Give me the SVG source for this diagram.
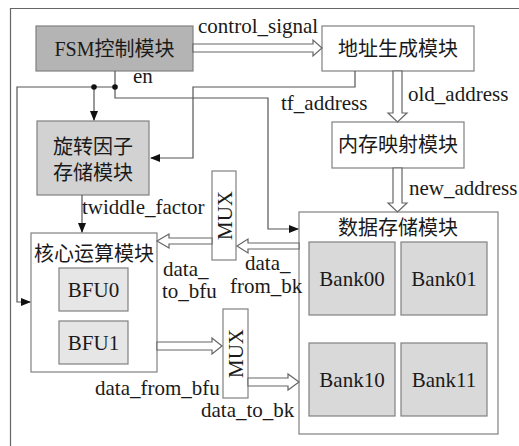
<svg xmlns="http://www.w3.org/2000/svg" width="519" height="446" viewBox="0 0 519 446">
<style>
.t{font-family:"Liberation Serif","Times New Roman",serif;font-size:21px;fill:#1a1a1a}
.z{font-family:"Liberation Serif","Noto Sans CJK SC",serif;font-size:20px;fill:#1a1a1a}
.c{text-anchor:middle}
.box{stroke:#808080;stroke-width:1.2}
.ln{fill:none;stroke:#555;stroke-width:1.2}
.hol{fill:#fff;stroke:#666;stroke-width:1.2}
</style>
<defs>
<marker id="ah" markerWidth="10" markerHeight="8" refX="9" refY="4" orient="auto" markerUnits="userSpaceOnUse">
<path d="M0,0 L10,4 L0,8 Z" fill="#111"/>
</marker>
</defs>
<rect width="519" height="446" fill="#fff"/>
<path d="M10.5,446 V8.5 H519" fill="none" stroke="#666" stroke-width="1.2"/>

<g id="fsm">
<rect class="box" x="36" y="26" width="157" height="45" fill="#b4b4b4"/>
<text class="z c" x="114.5" y="56">FSM控制模块</text>
</g>
<g id="addrgen">
<rect class="box" x="322" y="26" width="152" height="45" fill="#fff"/>
<text class="z c" x="398" y="56">地址生成模块</text>
</g>
<g id="memmap">
<rect class="box" x="332" y="122" width="132" height="46" fill="#fff"/>
<text class="z c" x="398" y="152">内存映射模块</text>
</g>
<g id="twiddle">
<rect class="box" x="37" y="121" width="112" height="74" fill="#d2d2d2"/>
<text class="z c" x="93" y="154">旋转因子</text>
<text class="z c" x="93" y="180">存储模块</text>
</g>
<g id="core">
<rect class="box" x="31" y="233" width="126" height="139" fill="#fff"/>
<text class="z c" x="94" y="261">核心运算模块</text>
<g id="bfu0">
<rect class="box" x="59" y="268" width="69" height="43" fill="#e6e6e6"/>
<text class="t c" x="93.5" y="297">BFU0</text>
</g>
<g id="bfu1">
<rect class="box" x="59" y="321" width="69" height="43" fill="#e6e6e6"/>
<text class="t c" x="93.5" y="350">BFU1</text>
</g>
</g>
<g id="mux1">
<rect class="box" x="212" y="171" width="24" height="89" fill="#fff"/>
<text class="t c" transform="translate(231.5,215.5) rotate(-90)">MUX</text>
</g>
<g id="mux2">
<rect class="box" x="223" y="309" width="25" height="89" fill="#fff"/>
<text class="t c" transform="translate(243,353.5) rotate(-90)">MUX</text>
</g>
<g id="datamem">
<rect class="box" x="299" y="212" width="199" height="222" fill="#fff"/>
<text class="z c" x="398" y="235">数据存储模块</text>
<g id="bank00">
<rect class="box" x="309" y="242" width="86" height="73" fill="#d9d9d9"/>
<text class="t c" x="352" y="286">Bank00</text>
</g>
<g id="bank01">
<rect class="box" x="401" y="242" width="86" height="73" fill="#d9d9d9"/>
<text class="t c" x="444" y="286">Bank01</text>
</g>
<g id="bank10">
<rect class="box" x="309" y="343" width="86" height="73" fill="#d9d9d9"/>
<text class="t c" x="352" y="387">Bank10</text>
</g>
<g id="bank11">
<rect class="box" x="401" y="343" width="86" height="73" fill="#d9d9d9"/>
<text class="t c" x="444" y="387">Bank11</text>
</g>
</g>

<g id="connectors">
<polygon class="hol" points="193,44 313,44 313,40 322,48 313,56 313,52 193,52"/>
<polygon class="hol" points="393,71 393,113 388,113 397.5,122 407,113 402,113 402,71"/>
<polygon class="hol" points="393,168 393,203 388,203 397.5,212 407,203 402,203 402,168"/>
<polygon class="hol" points="299,243 248,243 248,239 237,246 248,253 248,249 299,249"/>
<polygon class="hol" points="212,238 169,238 169,234 157,241 169,248 169,244 212,244"/>
<polygon class="hol" points="157,342 212,342 212,338 222,346 212,354 212,350 157,350"/>
<polygon class="hol" points="248,378 288,378 288,374 299,382 288,390 288,386 248,386"/>
<path class="ln" d="M355,71 V87 H193 V158 H151" marker-end="url(#ah)"/>
<path class="ln" d="M115,71 V98 H268 V229 H298" marker-end="url(#ah)"/>
<path class="ln" d="M115,87 H17 V302 H30" marker-end="url(#ah)"/>
<path class="ln" d="M94,87 V120" marker-end="url(#ah)"/>
<path class="ln" d="M82,195 V232" marker-end="url(#ah)"/>
<circle cx="115" cy="87" r="2.8" fill="#111"/>
<circle cx="94" cy="87" r="2.8" fill="#111"/>
</g>

<g id="labels">
<text class="t" x="198" y="33">control_signal</text>
<text class="t" x="133" y="83">en</text>
<text class="t" x="281" y="110">tf_address</text>
<text class="t" x="408" y="101">old_address</text>
<text class="t" x="409" y="195">new_address</text>
<text class="t" x="82" y="214">twiddle_factor</text>
<text class="t" x="163" y="276">data_</text>
<text class="t" x="162" y="298">to_bfu</text>
<text class="t" x="245" y="270">data_</text>
<text class="t" x="230" y="293">from_bk</text>
<text class="t" x="95" y="395">data_from_bfu</text>
<text class="t" x="201" y="417">data_to_bk</text>
</g>
</svg>
